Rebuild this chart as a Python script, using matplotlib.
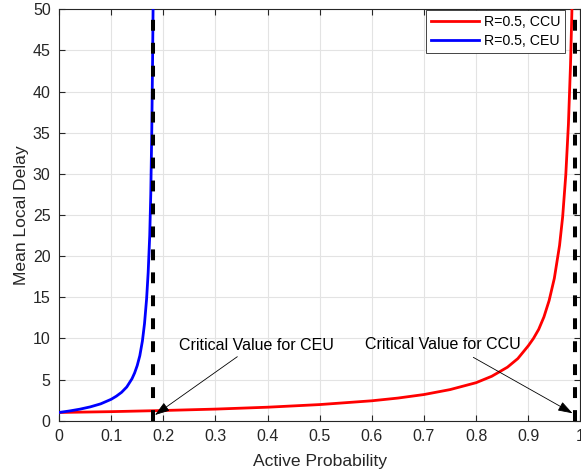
import matplotlib
matplotlib.use('Agg')
import matplotlib.pyplot as plt

plt.rcParams['font.family'] = ['Liberation Sans', 'DejaVu Sans']

# 读图估计的数据点
ccu_p = [0, 0.1, 0.2, 0.3, 0.4, 0.5, 0.6, 0.65, 0.7, 0.75, 0.8, 0.83, 0.86,
         0.88, 0.9, 0.91, 0.92, 0.93, 0.94, 0.95, 0.96, 0.966, 0.972, 0.977,
         0.981, 0.984]
ccu_delay = [1.0, 1.1, 1.24, 1.41, 1.64, 1.96, 2.42, 2.75, 3.18, 3.78, 4.62, 5.4, 6.5,
             7.55, 9.1, 10.0, 11.1, 12.6, 14.6, 17.3, 21.3, 24.8, 29.9, 36.0,
             43.2, 50.5]

ceu_p = [0, 0.02, 0.04, 0.06, 0.08, 0.1, 0.11, 0.12, 0.13, 0.14, 0.145, 0.15,
         0.155, 0.16, 0.164, 0.168, 0.171, 0.174, 0.176, 0.178, 0.1795, 0.1805]
ceu_delay = [1.0, 1.18, 1.4, 1.68, 2.05, 2.6, 2.98, 3.45, 4.1, 5.1, 5.8, 6.7,
             7.9, 9.7, 11.8, 14.8, 18.0, 22.5, 27.5, 35.5, 44, 50.5]

crit_ceu = 0.181
crit_ccu = 0.99

x_ticks = [0, 0.1, 0.2, 0.3, 0.4, 0.5, 0.6, 0.7, 0.8, 0.9, 1]
x_labels = ['0', '0.1', '0.2', '0.3', '0.4', '0.5', '0.6', '0.7', '0.8', '0.9', '1']
y_ticks = list(range(0, 51, 5))

fig = plt.figure(figsize=(5.81, 4.72), dpi=100)
ax = fig.add_axes([59 / 581, 1 - 420.7 / 472, (580.4 - 59) / 581, 411.4 / 472])

ax.plot(ccu_p, ccu_delay, color='#ff0000', lw=2, label='R=0.5, CCU', zorder=3)
ax.plot(ceu_p, ceu_delay, color='#0000ff', lw=2, label='R=0.5, CEU', zorder=3)

# 临界值竖虚线
for xc in [crit_ceu, crit_ccu]:
    ax.plot([xc, xc], [0, 50], color='k', lw=2.9, dashes=(2.7, 3.0), zorder=4)

ax.set_xlim(0, 1)
ax.set_ylim(0, 50)
ax.set_xticks(x_ticks)
ax.set_xticklabels(x_labels)
ax.set_yticks(y_ticks)
ax.grid(True, color='#e3e3e3', lw=0.8)
ax.set_axisbelow(True)
for s in ax.spines.values():
    s.set_color('#262626')
    s.set_linewidth(0.8)
ax.tick_params(direction='in', length=4, width=0.8, colors='#262626',
               labelsize=11.5, top=True, right=True, pad=6)

ax.set_xlabel('Active Probability', fontsize=12.6, color='#262626', labelpad=7)
ax.set_ylabel('Mean Local Delay', fontsize=12.6, color='#262626', labelpad=3)

# 注释箭头
arrow = dict(arrowstyle='-|>,head_length=0.9,head_width=0.3', color='k', lw=0.6,
             shrinkA=0, shrinkB=0)
ax.annotate('', xy=(0.184, 0.69), xytext=(0.342, 7.78), arrowprops=arrow, zorder=5)
ax.text(0.379, 9.2, 'Critical Value for CEU', ha='center', va='center', fontsize=11.5)
ax.annotate('', xy=(0.985, 0.9), xytext=(0.7946, 7.7), arrowprops=arrow, zorder=5)
ax.text(0.737, 9.32, 'Critical Value for CCU', ha='center', va='center', fontsize=11.5)

leg = ax.legend(loc='upper right', bbox_to_anchor=(0.9705, 0.9983), borderaxespad=0,
                fontsize=10.2, handlelength=3.4, handletextpad=0.3, labelspacing=0.35,
                borderpad=0.35, fancybox=False, framealpha=1, edgecolor='#262626')
leg.get_frame().set_linewidth(0.6)

fig.savefig('out.png', dpi=100)
